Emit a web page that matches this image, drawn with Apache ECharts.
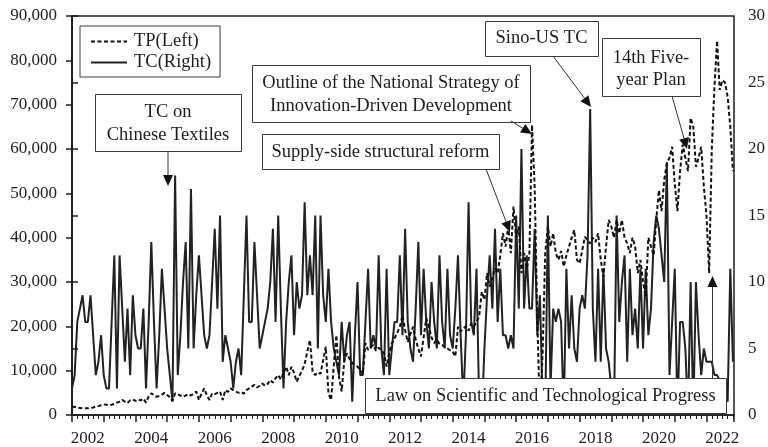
<!DOCTYPE html>
<html>
<head>
<meta charset="utf-8">
<script src="https://cdn.jsdelivr.net/npm/echarts@6/dist/echarts.min.js"></script>
<style>
html,body{margin:0;padding:0;background:#fff;}
#chart{width:768px;height:447px;}
</style>
</head>
<body>
<div id="chart"></div>
<script>
// Monthly data, Jan 2002 (index 0) .. Nov 2022 (index 250)
const TP_2002 = [1900,1800,1700,1600,1500,1500,1500,1600,1700,1900,2000,2200];
const TP_2003 = [2400,2300,2200,2300,2500,2800,3000,3400,3000,2700,3300,3500];
const TP_2004 = [3200,3500,3300,3700,2800,4200,4900,4500,4100,4300,4600,5000];
const TP_2005 = [4500,4000,3200,4900,4700,4400,4100,4400,4700,4400,4800,5300];
const TP_2006 = [3400,4800,6000,4500,3400,4900,4700,5000,5300,3400,5600,5200];
const TP_2007 = [6000,5600,5300,5000,5200,4800,5600,6000,6400,6800,6200,6600];
const TP_2008 = [7100,6600,7000,7900,7300,8300,9000,8000,9500,10900,9000,10900];
const TP_2009 = [9500,7500,8800,10000,11500,14300,16900,9800,9000,9600,9300,12400];
const TP_2010 = [15400,4900,3400,11000,18000,8600,5300,12400,13900,12600,11700,11300];
const TP_2011 = [10900,10200,9200,16200,14700,15300,15800,14500,15200,14600,13900,10900];
const TP_2012 = [14000,16200,17300,18500,19900,22500,19100,16500,18300,19900,17000,15000];
const TP_2013 = [13200,17500,21800,19900,17500,16200,17000,16000,15800,15300,15000,14600];
const TP_2014 = [14300,13200,19900,18800,19500,20000,19000,20700,20000,21000,22200,27800];
const TP_2015 = [26000,32000,29000,31000,33100,32000,36000,41000,38000,42500,36500,47000];
const TP_2016 = [40000,42500,32000,36500,33000,36000,65400,51500,21400,0,14000,36500];
const TP_2017 = [42500,38000,41000,36500,35000,37000,33500,36000,38000,40000,41700,35000];
const TP_2018 = [34200,37200,40200,39500,38700,40000,39000,41000,35000,31200,38000,44000];
const TP_2019 = [42500,40000,44000,41000,44000,40000,38700,36500,40000,38000,32000,35000];
const TP_2020 = [30000,26700,40000,38000,36000,44000,50700,46000,53000,56800,58000,60500];
const TP_2021 = [52000,46000,55000,61000,58000,55000,67000,65000,56000,58000,60500,51500];
const TP_2022 = [45000,32000,60000,74000,84400,73300,75500,75000,71800,65000,55000];

const TC_2002 = [2,3,7,8,9,7,7,9,6,3,4,6];
const TC_2003 = [3,2,2,7,12,2,12,8,4,8,3,9];
const TC_2004 = [6,5,5,8,2,7,13,7,2,6,11,8];
const TC_2005 = [5,3,1,18,3,6,10,13,5,17,5,9];
const TC_2006 = [12,9,6,5,6,10,14,8,15,4,6,5];
const TC_2007 = [4,2,4,5,3,9,15,7,7,13,9,5];
const TC_2008 = [6,7,8,10,14,7,15,8,2,7,10,12];
const TC_2009 = [6,10,8,9,16,9,12,9,15,5,15,9];
const TC_2010 = [7,11,7,5,4,3,7,4,6,7,1,6];
const TC_2011 = [10,3,3,7,11,5,6,5,12,5,3,11];
const TC_2012 = [3,5,7,7,12,6,14,7,5,4,8,13];
const TC_2013 = [6,11,7,5,10,7,5,12,7,5,11,6];
const TC_2014 = [5,8,12,6,1,6,16,7,6,11,1,0];
const TC_2015 = [5,9,12,8,14,7,11,6,6,5,6,5];
const TC_2016 = [15,8,20,8,12,8,8,14,6,9,1,0];
const TC_2017 = [15,2,8,7,8,7,0,11,5,9,5,4];
const TC_2018 = [8,9,8,12,23,8,4,11,4,11,5,4];
const TC_2019 = [2,0,15,7,10,12,4,11,6,8,5,11];
const TC_2020 = [5,11,6,8,13,15,14,12,10,19,3,7];
const TC_2021 = [11,0,7,7,5,0,10,0,10,6,3,5];
const TC_2022 = [4,4,4,3,3,2.6,2,2,1,11,4];

const TP = [].concat(TP_2002,TP_2003,TP_2004,TP_2005,TP_2006,TP_2007,TP_2008,TP_2009,TP_2010,TP_2011,TP_2012,TP_2013,TP_2014,TP_2015,TP_2016,TP_2017,TP_2018,TP_2019,TP_2020,TP_2021,TP_2022);
const TC = [].concat(TC_2002,TC_2003,TC_2004,TC_2005,TC_2006,TC_2007,TC_2008,TC_2009,TC_2010,TC_2011,TC_2012,TC_2013,TC_2014,TC_2015,TC_2016,TC_2017,TC_2018,TC_2019,TC_2020,TC_2021,TC_2022);

const firstYear = 2002;
const seriesNames = ['TP(Left)', 'TC(Right)'];

const FONT = '"Liberation Serif", "DejaVu Serif", serif';
const INK = '#1e1e1e';
const fs = 17;     // tick labels
const fa = 18.5;   // annotations and legend

// annotation boxes: [x, y, w, h], text lines, arrow [x1,y1,x2,y2]
const notes = [
  {box:[95,94,146,57], lines:['TC on','Chinese Textiles'], ly:[112.5,135], arrow:[168,151,168,186]},
  {box:[252,65,278,57], lines:['Outline of the National Strategy of','Innovation-Driven Development'], ly:[83.5,106], arrow:[511,121,532,134]},
  {box:[262,134,237,35], lines:['Supply-side structural reform'], ly:[152], arrow:[486,169,510,232]},
  {box:[485,21,113,35], lines:['Sino-US TC'], ly:[38.5], arrow:[553,56,591,107]},
  {box:[602,38,98,58], lines:['14th Five-','year Plan'], ly:[58,80], arrow:[672,96,687,149]},
  {box:[365,378,361,35], lines:['Law on Scientific and Technological Progress'], ly:[396.5], arrow:[712.5,378,712.5,276]}
];

const graphics = [];
notes.forEach(n => {
  const [x,y,w,h] = n.box;
  graphics.push({type:'rect', z:100, shape:{x:x+0.5,y:y+0.5,width:w,height:h}, style:{fill:'#fff', stroke:'#3a3a3a', lineWidth:1}});
  n.lines.forEach((t,i) => {
    graphics.push({type:'text', z:101, x:x+w/2, y:n.ly[i], style:{text:t, font:fa+'px '+FONT, fill:INK, textAlign:'center', textVerticalAlign:'middle'}});
  });
  const [x1,y1,x2,y2] = n.arrow;
  const dx = x2-x1, dy = y2-y1, L = Math.hypot(dx,dy);
  const ux = dx/L, uy = dy/L;
  const hl = 11, hw = 5;
  const bx = x2-ux*hl, by = y2-uy*hl;
  graphics.push({type:'line', z:100, shape:{x1:x1,y1:y1,x2:bx,y2:by}, style:{stroke:'#333', lineWidth:1}});
  graphics.push({type:'polygon', z:100, shape:{points:[[x2,y2],[bx-uy*hw,by+ux*hw],[bx+uy*hw,by-ux*hw]]}, style:{fill:'#111'}});
});

const chart = echarts.init(document.getElementById('chart'), null, {renderer:'canvas'});
chart.setOption({
  animation:false,
  backgroundColor:'#fff',
  grid:{left:72, right:32, top:16, bottom:32, show:true, borderColor:INK, borderWidth:1.5},
  legend:{
    orient:'vertical', left:80, top:26, padding:[6,9,5,10], itemGap:2, itemWidth:36, itemHeight:14,
    borderColor:'#3a3a3a', borderWidth:1, backgroundColor:'#fff',
    itemStyle:{opacity:0},
    textStyle:{fontFamily:FONT, fontSize:fa, color:INK, padding:[0,0,0,2]},
    data:seriesNames
  },
  xAxis:[
    {type:'value', min:0, max:250.4, interval:12, position:'bottom',
     axisLine:{show:true, lineStyle:{color:INK, width:1.5}},
     axisTick:{show:true, length:7, lineStyle:{color:INK, width:1.5}},
     minorTick:{show:true, splitNumber:6, length:4, lineStyle:{color:INK, width:1}},
     axisLabel:{show:false}, splitLine:{show:false}},
    {type:'value', min:0, max:250.4, interval:6, position:'bottom', offset:0,
     axisLine:{show:false}, axisTick:{show:false}, splitLine:{show:false},
     axisLabel:{show:true, margin:15, fontFamily:FONT, fontSize:fs, color:INK, showMaxLabel:false,
       formatter:v => (v % 24 === 6) ? String(firstYear + (v-6)/12) : ''}}
  ],
  yAxis:[
    {type:'value', min:0, max:90000, interval:10000, position:'left',
     axisLine:{show:true, lineStyle:{color:INK, width:1.5}},
     axisTick:{show:true, length:6, lineStyle:{color:INK, width:1.5}},
     splitLine:{show:false},
     axisLabel:{margin:15, fontFamily:FONT, fontSize:fs, color:INK, formatter:v => v.toLocaleString('en-US')}},
    {type:'value', min:0, max:30, interval:5, position:'right',
     axisLine:{show:true, lineStyle:{color:INK, width:1.5}},
     axisTick:{show:true, length:6, lineStyle:{color:INK, width:1.5}},
     splitLine:{show:false},
     axisLabel:{margin:14, fontFamily:FONT, fontSize:fs, color:INK}}
  ],
  series:[
    {name:seriesNames[1], type:'line', xAxisIndex:0, yAxisIndex:1, data:TC.map((v,i)=>[i,v]),
     symbol:'none', z:2, lineStyle:{color:'#222', width:2}, itemStyle:{color:'#222'}},
    {name:seriesNames[0], type:'line', xAxisIndex:0, yAxisIndex:0, data:TP.map((v,i)=>[i,v]),
     symbol:'none', z:3, lineStyle:{color:'#111', width:2, type:[4,2.5]}, itemStyle:{color:'#111'}}
  ],
  graphic:graphics
});
</script>
</body>
</html>
